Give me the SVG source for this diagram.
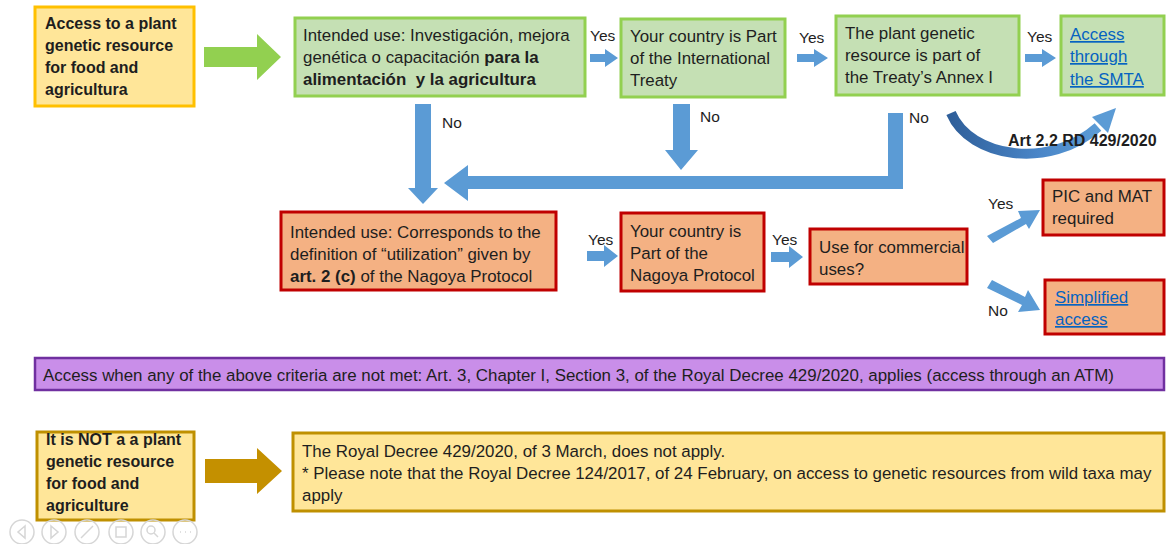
<svg xmlns="http://www.w3.org/2000/svg" width="1166" height="544" viewBox="0 0 1166 544">
<defs>
<style>
text{font-family:"Liberation Sans",Arial,sans-serif;fill:#1e1e1e;}
.t{font-size:16.9px;}
.b{font-size:16px;font-weight:bold;}
.lbl{font-size:15.5px;}
.link{fill:#0563c1;text-decoration:underline;}
.yel{fill:#ffe699;stroke:#ffc000;stroke-width:3;}
.gold{fill:#ffe699;stroke:#bf9000;stroke-width:3;}
.grn{fill:#c5e0b4;stroke:#92d050;stroke-width:3;}
.red{fill:#f4b183;stroke:#c00000;stroke-width:3;}
.pur{fill:#c98ee9;stroke:#7030a0;stroke-width:2.5;}
.blue{fill:#5b9bd5;}
.ic{fill:none;stroke:#d6d6d6;stroke-width:1.5;}
</style>
<linearGradient id="cg" x1="0" y1="0" x2="1" y2="0">
<stop offset="0" stop-color="#2f5f9a"/>
<stop offset="0.6" stop-color="#4a86c8"/>
<stop offset="1" stop-color="#5b9bd5"/>
</linearGradient>
</defs>
<rect width="1166" height="544" fill="#ffffff"/>

<g id="connectors">
<polygon fill="#92d050" points="204,47 257,47 257,34 281,57 257,80 257,67 204,67"/>
<polygon class="blue" points="590,54 605,54 605,49 618,58 605,67 605,62 590,62"/>
<polygon class="blue" points="797,54 814,54 814,49 828,58 814,67 814,62 797,62"/>
<polygon class="blue" points="1025,54 1042,54 1042,49 1056,58 1042,67 1042,62 1025,62"/>
<polygon class="blue" points="415,104 431,104 431,188 438,188 423,204 408,188 415,188"/>
<polygon class="blue" points="673,104 690,104 690,150 698,150 681,170 665,150 673,150"/>
<polygon class="blue" points="888,113 903,113 903,189 468,189 468,201 444,183 468,165 468,176 888,176"/>
<polygon class="blue" points="587,251 604,251 604,245 618,256 604,267 604,261 587,261"/>
<polygon class="blue" points="771,252 789,252 789,246 803,257 789,268 789,262 771,262"/>
<polygon class="blue" points="987,236 1021,218 1018,211 1040,210 1029,229 1026,224 993,243"/>
<polygon class="blue" points="992,280 1025,297 1028,290 1040,310 1018,312 1022,305 987,288"/>
<path d="M951,113 C970,158 1050,170 1098,127" fill="none" stroke="url(#cg)" stroke-width="10"/>
<polygon fill="#5b9bd5" points="1116,108 1092,117 1108,133"/>
<polygon fill="#c49000" points="205,459 257,459 257,448 282,471 257,494 257,483 205,483"/>
<text class="lbl" x="590" y="41">Yes</text>
<text class="lbl" x="799" y="43">Yes</text>
<text class="lbl" x="1027" y="42">Yes</text>
<text class="lbl" x="442" y="128">No</text>
<text class="lbl" x="700" y="122">No</text>
<text class="lbl" x="909" y="123">No</text>
<text class="b" x="1008" y="146">Art 2.2 RD 429/2020</text>
<text class="lbl" x="588" y="245">Yes</text>
<text class="lbl" x="772" y="245">Yes</text>
<text class="lbl" x="988" y="209">Yes</text>
<text class="lbl" x="988" y="316">No</text>
</g>

<g id="n1">
<rect class="yel" x="35" y="7" width="159" height="99"/>
<text class="b" x="45" y="29">Access to a plant</text>
<text class="b" x="45" y="51">genetic resource</text>
<text class="b" x="45" y="73">for food and</text>
<text class="b" x="45" y="95">agricultura</text>
</g>
<g id="n2">
<rect class="grn" x="295" y="18" width="290" height="78"/>
<text class="t" x="303" y="41">Intended use: Investigación, mejora</text>
<text class="t" x="303" y="63">genética o capacitación <tspan font-weight="bold">para la</tspan></text>
<text class="t" x="303" y="85" font-weight="bold">alimentación&#160; y la agricultura</text>
</g>
<g id="n3">
<rect class="grn" x="621" y="19" width="164" height="78"/>
<text class="t" x="630" y="42">Your country is Part</text>
<text class="t" x="630" y="64">of the International</text>
<text class="t" x="630" y="86">Treaty</text>
</g>
<g id="n4">
<rect class="grn" x="836" y="16" width="183" height="79"/>
<text class="t" x="845" y="39">The plant genetic</text>
<text class="t" x="845" y="61">resource is part of</text>
<text class="t" x="845" y="83">the Treaty’s Annex I</text>
</g>
<g id="n5">
<rect class="grn" x="1061" y="16" width="103" height="79"/>
<text class="t link" x="1070" y="40">Access</text>
<text class="t link" x="1070" y="62">through</text>
<text class="t link" x="1070" y="85">the SMTA</text>
</g>
<g id="n6">
<rect class="red" x="281" y="212" width="275" height="78"/>
<text class="t" x="290" y="238">Intended use: Corresponds to the</text>
<text class="t" x="290" y="260">definition of “utilization” given by</text>
<text class="t" x="290" y="282"><tspan font-weight="bold">art. 2 (c)</tspan> of the Nagoya Protocol</text>
</g>
<g id="n7">
<rect class="red" x="621" y="213" width="143" height="78"/>
<text class="t" x="630" y="237">Your country is</text>
<text class="t" x="630" y="259">Part of the</text>
<text class="t" x="630" y="281">Nagoya Protocol</text>
</g>
<g id="n8">
<rect class="red" x="810" y="229" width="157" height="55"/>
<text class="t" x="819" y="253">Use for commercial</text>
<text class="t" x="819" y="275">uses?</text>
</g>
<g id="n9">
<rect class="red" x="1043" y="180" width="121" height="55"/>
<text class="t" x="1052" y="202">PIC and MAT</text>
<text class="t" x="1052" y="224">required</text>
</g>
<g id="n10">
<rect class="red" x="1045" y="280" width="119" height="54"/>
<text class="t link" x="1055" y="303">Simplified</text>
<text class="t link" x="1055" y="325">access</text>
</g>
<g id="n11">
<rect class="pur" x="35" y="358" width="1129" height="32"/>
<text class="t" x="43" y="381">Access when any of the above criteria are not met: Art. 3, Chapter I, Section 3, of the Royal Decree 429/2020, applies (access through an ATM)</text>
</g>
<g id="n12">
<rect class="gold" x="37" y="432" width="157" height="88"/>
<text class="b" x="46" y="445">It is NOT a a plant</text>
<text class="b" x="46" y="467">genetic resource</text>
<text class="b" x="46" y="489">for food and</text>
<text class="b" x="46" y="511">agriculture</text>
</g>
<g id="n13">
<rect class="gold" x="293" y="433" width="871" height="78"/>
<text class="t" x="302" y="457">The Royal Decree 429/2020, of 3 March, does not apply.</text>
<text class="t" x="302" y="479">* Please note that the Royal Decree 124/2017, of 24 February, on access to genetic resources from wild taxa may</text>
<text class="t" x="302" y="501">apply</text>
</g>

<g id="controls">
<circle class="ic" cx="22" cy="532" r="12"/>
<path class="ic" d="M25,526 L18,532 L25,538 Z"/>
<circle class="ic" cx="54" cy="532" r="12"/>
<path class="ic" d="M51,526 L58,532 L51,538 Z"/>
<circle class="ic" cx="87" cy="532" r="12"/>
<path class="ic" d="M81,538 L93,526"/>
<circle class="ic" cx="121" cy="532" r="12"/>
<rect class="ic" x="116" y="527" width="10" height="10"/>
<circle class="ic" cx="153" cy="532" r="12"/>
<circle class="ic" cx="151" cy="530" r="4"/>
<path class="ic" d="M154,533 L158,537"/>
<circle class="ic" cx="185" cy="532" r="12"/>
<path class="ic" d="M180,532 h1 M185,532 h1 M190,532 h1"/>
</g>
</svg>
